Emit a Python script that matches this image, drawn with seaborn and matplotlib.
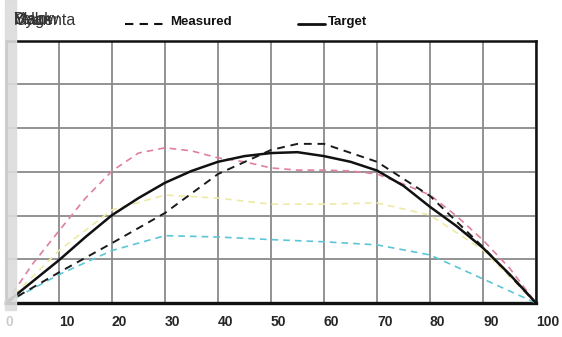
import numpy as np
import pandas as pd
import matplotlib
matplotlib.use("Agg")
import matplotlib.pyplot as plt
import seaborn as sns

# ---- data ----
x_ticks = [0, 10, 20, 30, 40, 50, 60, 70, 80, 90, 100]
target_x = [0, 5, 10, 15, 20, 25, 30, 35, 40, 45, 50, 55, 60, 65, 70, 75, 80, 85, 90, 95, 100]
target_y = [0, 4.9, 9.8, 15.1, 20.1, 24.0, 27.5, 30.2, 32.3, 33.6, 34.3, 34.5, 33.6, 32.3, 30.3, 26.8, 22.0, 17.6, 12.6, 6.6, 0]
measured_x = [0, 10, 20, 30, 40, 50, 55, 60, 70, 80, 90, 100]
measured_y = [0, 7.0, 13.7, 20.6, 29.5, 35.0, 36.4, 36.4, 32.3, 24.5, 12.8, 0]
magenta_x = [0, 5, 10, 15, 20, 25, 30, 35, 40, 45, 50, 55, 60, 65, 70, 75, 80, 85, 90, 95, 100]
magenta_y = [0, 8.9, 16.5, 24.0, 30.2, 34.3, 35.5, 34.8, 33.2, 32.3, 30.9, 30.4, 30.4, 30.2, 29.5, 27.2, 24.7, 19.9, 14.4, 8.0, 0]
yellow_x = [0, 10, 20, 30, 40, 50, 60, 70, 80, 90, 100]
yellow_y = [0, 12.0, 21.3, 24.7, 24.0, 22.6, 22.6, 22.9, 20.1, 12.1, 0]
cyan_x = [0, 10, 20, 30, 40, 50, 60, 70, 80, 90, 100]
cyan_y = [0, 6.5, 12.0, 15.4, 15.1, 14.5, 14.0, 13.3, 11.0, 5.5, 0]
channel_labels = ["Black", "Cyan", "Yellow", "Magenta"]

W, H = 562, 337
fig = plt.figure(figsize=(W / 100, H / 100), dpi=100)
sns.set_style("white")
plt.rcParams["font.family"] = ["Liberation Sans", "DejaVu Sans"]

ax = fig.add_axes([6 / W, (H - 303) / H, 530 / W, 262.3 / H])

series = [
    ("Cyan", cyan_x, cyan_y, "#5cc6d6", (4, 3), 1.2),
    ("Yellow", yellow_x, yellow_y, "#eeeaa6", (4, 3), 1.2),
    ("Magenta", magenta_x, magenta_y, "#e0809c", (4, 3), 1.2),
    ("Measured", measured_x, measured_y, "#1a1a1a", (4, 3), 1.4),
    ("Target", target_x, target_y, "#111111", None, 1.8),
]
for name, xs, ys, col, dash, lw in series:
    df = pd.DataFrame({"x": xs, "y": ys})
    sns.lineplot(data=df, x="x", y="y", ax=ax, color=col, linewidth=lw,
                 legend=False, zorder=3)
    l = ax.get_lines()[-1]
    l.set_solid_joinstyle("round")
    l.set_dash_joinstyle("round")
    if dash is not None:
        l.set_dashes(dash)

ax.set_xlim(0, 100)
ax.set_ylim(0, 60)
ax.set_xticks(x_ticks)
ax.set_yticks(np.arange(0, 61, 10))
ax.grid(True, color="#8a8a8a", linewidth=1.3)
ax.set_axisbelow(True)
ax.set_xlabel("")
ax.set_ylabel("")
ax.set_yticklabels([])
ax.tick_params(axis="both", length=0)
ax.tick_params(axis="x", pad=9)
labels = ax.set_xticklabels([str(v) for v in x_ticks], fontsize=10, fontweight="bold")
for lab in labels:
    lab.set_horizontalalignment("left")
labels[0].set_color("#cccccc")
for s in ax.spines.values():
    s.set_color("#111111")
    s.set_linewidth(1.8)
ax.spines["bottom"].set_linewidth(2.4)

# gray strip on the left
fig.patches.append(plt.Rectangle((5 / W, (H - 310) / H), 11 / W, 310 / H,
                                 transform=fig.transFigure, color="#dcdcdc",
                                 zorder=10, alpha=0.9))

# overlapping channel labels at top-left
for t in channel_labels:
    fig.text(14 / W, 1 - 20 / H, t, fontsize=11.5, color="#333333",
             va="center", ha="left", zorder=11)

# legend items
fig.add_artist(plt.Line2D([125 / W, 168 / W], [1 - 24 / H, 1 - 24 / H],
                          color="#111111", linewidth=1.5, dashes=(4, 3)))
fig.text(170 / W, 1 - 22 / H, "Measured", fontsize=9.5, fontweight="bold",
         va="center", ha="left", color="#111111")
fig.add_artist(plt.Line2D([298 / W, 325 / W], [1 - 24 / H, 1 - 24 / H],
                          color="#111111", linewidth=2))
fig.text(328 / W, 1 - 22 / H, "Target", fontsize=9.5, fontweight="bold",
         va="center", ha="left", color="#111111")

fig.savefig("out.png", dpi=100)
